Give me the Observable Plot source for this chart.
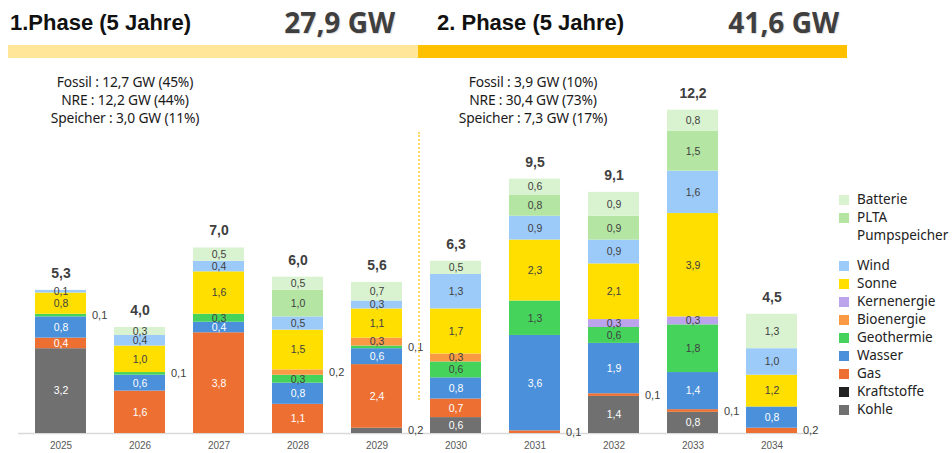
<!DOCTYPE html>
<html>
<head>
<meta charset="utf-8">
<script src="https://cdn.jsdelivr.net/npm/d3@7"></script>
<script src="https://cdn.jsdelivr.net/npm/@observablehq/plot@0.6"></script>
<style>
  html, body { margin: 0; padding: 0; background: #fff; }
  #wrap { position: relative; width: 952px; height: 453px; overflow: hidden; font-family: "Liberation Sans", Arial, sans-serif; }
  #wrap svg { position: absolute; left: 0; top: 0; }
  .abs { position: absolute; white-space: nowrap; }
  .phase { font-family: "Liberation Sans", Arial, sans-serif; font-weight: bold; font-size: 22px; color: #111; line-height: 22px; }
  .gw { font-family: "Open Sans", sans-serif; font-weight: 700; font-size: 28px; color: #3f3f3f; line-height: 28px; text-shadow: 1px 1px 1px rgba(0,0,0,0.15); }
  .note { font-family: "Noto Sans", sans-serif; font-size: 13.8px; color: #1a1a1a; line-height: 18px; text-align: center; letter-spacing: -0.15px; }
  .legend { font-family: "Noto Sans", sans-serif; font-size: 13.5px; color: #222; }
  .legend .item { position: absolute; left: 0; display: flex; height: 18px; }
  .legend .sw { width: 10px; height: 10px; margin-right: 8px; margin-top: 5px; }
</style>
</head>
<body>
<div id="wrap"></div>
<script>
// ---------- data ----------
const years = ["2025","2026","2027","2028","2029","2030","2031","2032","2033","2034"];
const series = ["Kohle","Kraftstoffe","Gas","Wasser","Geothermie","Bioenergie","Kernenergie","Sonne","Wind","PLTA Pumpspeicher","Batterie"];
const seriesColors = ["#707070","#222222","#ED7032","#4A90DA","#46D35C","#FA9A45","#BBA4EC","#FFDF00","#9DCBF9","#B4E5A2","#D9F2D0"];
const kohle       = [3.2, 0,   0,   0,   0.2, 0.6, 0,   1.4, 0.8, 0  ];
const kraftstoffe = [0,   0,   0,   0,   0,   0,   0,   0,   0,   0  ];
const gas         = [0.4, 1.6, 3.8, 1.1, 2.4, 0.7, 0.1, 0.1, 0.1, 0.2];
const wasser      = [0.8, 0.6, 0.4, 0.8, 0.6, 0.8, 3.6, 1.9, 1.4, 0.8];
const geothermie  = [0.1, 0.1, 0.3, 0.3, 0.1, 0.6, 1.3, 0.6, 1.8, 0  ];
const bioenergie  = [0,   0,   0,   0.2, 0.3, 0.3, 0,   0,   0,   0  ];
const kernenergie = [0,   0,   0,   0,   0,   0,   0,   0.3, 0.3, 0  ];
const sonne       = [0.8, 1.0, 1.6, 1.5, 1.1, 1.7, 2.3, 2.1, 3.9, 1.2];
const wind        = [0.1, 0.4, 0.4, 0.5, 0.3, 1.3, 0.9, 0.9, 1.6, 1.0];
const plta        = [0,   0,   0,   1.0, 0,   0,   0.8, 0.9, 1.5, 0  ];
const batterie    = [0,   0.3, 0.5, 0.5, 0.7, 0.5, 0.6, 0.9, 0.8, 1.3];
const totalLabels = ["5,3","4,0","7,0","6,0","5,6","6,3","9,5","9,1","12,2","4,5"];
// segment labels shown beside the bar instead of inside
const outsideLabels = ["2025|Geothermie","2026|Geothermie","2028|Bioenergie","2029|Geothermie","2029|Kohle","2031|Gas","2032|Gas","2033|Gas","2034|Gas"];
const whiteLabelSeries = ["Kohle","Kraftstoffe","Gas","Wasser"];
const legendOrder = ["Batterie","PLTA Pumpspeicher","Wind","Sonne","Kernenergie","Bioenergie","Geothermie","Wasser","Gas","Kraftstoffe","Kohle"];

const phase1 = {title: "1.Phase (5 Jahre)", total: "27,9 GW", lines: ["Fossil : 12,7 GW (45%)", "NRE : 12,2 GW (44%)", "Speicher : 3,0 GW (11%)"]};
const phase2 = {title: "2. Phase (5 Jahre)", total: "41,6 GW", lines: ["Fossil : 3,9 GW (10%)", "NRE : 30,4 GW (73%)", "Speicher : 7,3 GW (17%)"]};

// ---------- build table ----------
const valuesBySeries = [kohle, kraftstoffe, gas, wasser, geothermie, bioenergie, kernenergie, sonne, wind, plta, batterie];
const table = [];
series.forEach((s, si) => {
  years.forEach((y, yi) => {
    const v = valuesBySeries[si][yi];
    if (v > 0) table.push({year: y, series: s, value: v});
  });
});
const fmt = v => d3.format(".1f")(v).replace(".", ",");
const sums = years.map(y => d3.sum(table.filter(d => d.year === y), d => d.value));
const totals = years.map((y, i) => ({year: y, sum: sums[i], label: totalLabels[i]}));
const isOutside = d => outsideLabels.includes(d.year + "|" + d.series);

const stackOpts = {x: "year", y: "value", z: "series", order: series};

const chart = Plot.plot({
  width: 952,
  height: 453,
  marginLeft: 18,
  marginRight: 137,
  marginTop: 0,
  marginBottom: 20,
  style: {fontFamily: "Liberation Sans, Arial, sans-serif", background: "transparent", overflow: "visible"},
  x: {domain: years, paddingInner: 0.35, paddingOuter: 0.18, label: null, tickSize: 0, tickPadding: 8},
  y: {domain: [0, 433 / 26.5], axis: null},
  color: {domain: series, range: seriesColors},
  marks: [
    Plot.ruleY([0], {stroke: "#d9d9d9", strokeWidth: 1.5}),
    Plot.barY(table, Plot.stackY({...stackOpts, fill: "series", inset: 0})),
    Plot.text(table, Plot.stackY({...stackOpts,
      text: d => (!isOutside(d) && whiteLabelSeries.includes(d.series)) ? fmt(d.value) : "",
      fill: "white", fontSize: 10.5})),
    Plot.text(table, Plot.stackY({...stackOpts,
      text: d => (!isOutside(d) && !whiteLabelSeries.includes(d.series)) ? fmt(d.value) : "",
      fill: "#404040", fontSize: 10.5})),
    Plot.text(table, Plot.stackY({...stackOpts,
      text: d => isOutside(d) ? fmt(d.value) : "",
      fill: "#404040", fontSize: 11, textAnchor: "start", dx: 31})),
    Plot.text(totals, {x: "year", y: "sum", text: "label", dy: -17, fontSize: 14, fontWeight: "bold", fill: "#404040"})
  ]
});
// tick label style
d3.select(chart).selectAll("g[aria-label='x-axis tick label'] text, g[aria-label='x-axis tick label']").attr("font-size", 10).attr("fill", "#595959");

const wrap = document.getElementById("wrap");
wrap.appendChild(chart);

function addDiv(cls, style, html) {
  const el = document.createElement("div");
  el.className = "abs " + cls;
  Object.assign(el.style, style);
  el.innerHTML = html;
  wrap.appendChild(el);
  return el;
}
// header
addDiv("phase", {left: "10px", top: "12px"}, phase1.title);
addDiv("gw", {right: (952 - 395) + "px", top: "8px"}, phase1.total);
addDiv("phase", {left: "437px", top: "12px"}, phase2.title);
addDiv("gw", {right: (952 - 839) + "px", top: "8px"}, phase2.total);
addDiv("", {left: "8px", top: "45px", width: "410px", height: "13px", background: "#FFE699"}, "");
addDiv("", {left: "418px", top: "45px", width: "429px", height: "13px", background: "#FFC000"}, "");
// notes
addDiv("note", {left: "25px", width: "200px", top: "73px"}, phase1.lines.join("<br>"));
addDiv("note", {left: "433px", width: "200px", top: "73px"}, phase2.lines.join("<br>"));
// divider
addDiv("", {left: "418px", top: "132px", height: "268px", borderLeft: "2px dotted #FFD966"}, "");
// legend
const leg = addDiv("legend", {left: "839px", top: "190px", width: "113px", height: "240px"}, "");
const colorOf = s => seriesColors[series.indexOf(s)];
let ty = 0;
legendOrder.forEach(s => {
  const item = document.createElement("div");
  item.className = "item";
  item.style.top = ty + "px";
  const lab = s === "PLTA Pumpspeicher" ? "PLTA<br>Pumpspeicher" : s;
  item.innerHTML = `<div class="sw" style="background:${colorOf(s)}"></div><div style="line-height:18px">${lab}</div>`;
  leg.appendChild(item);
  ty += s === "PLTA Pumpspeicher" ? 48 : 18;
});
</script>
</body>
</html>
